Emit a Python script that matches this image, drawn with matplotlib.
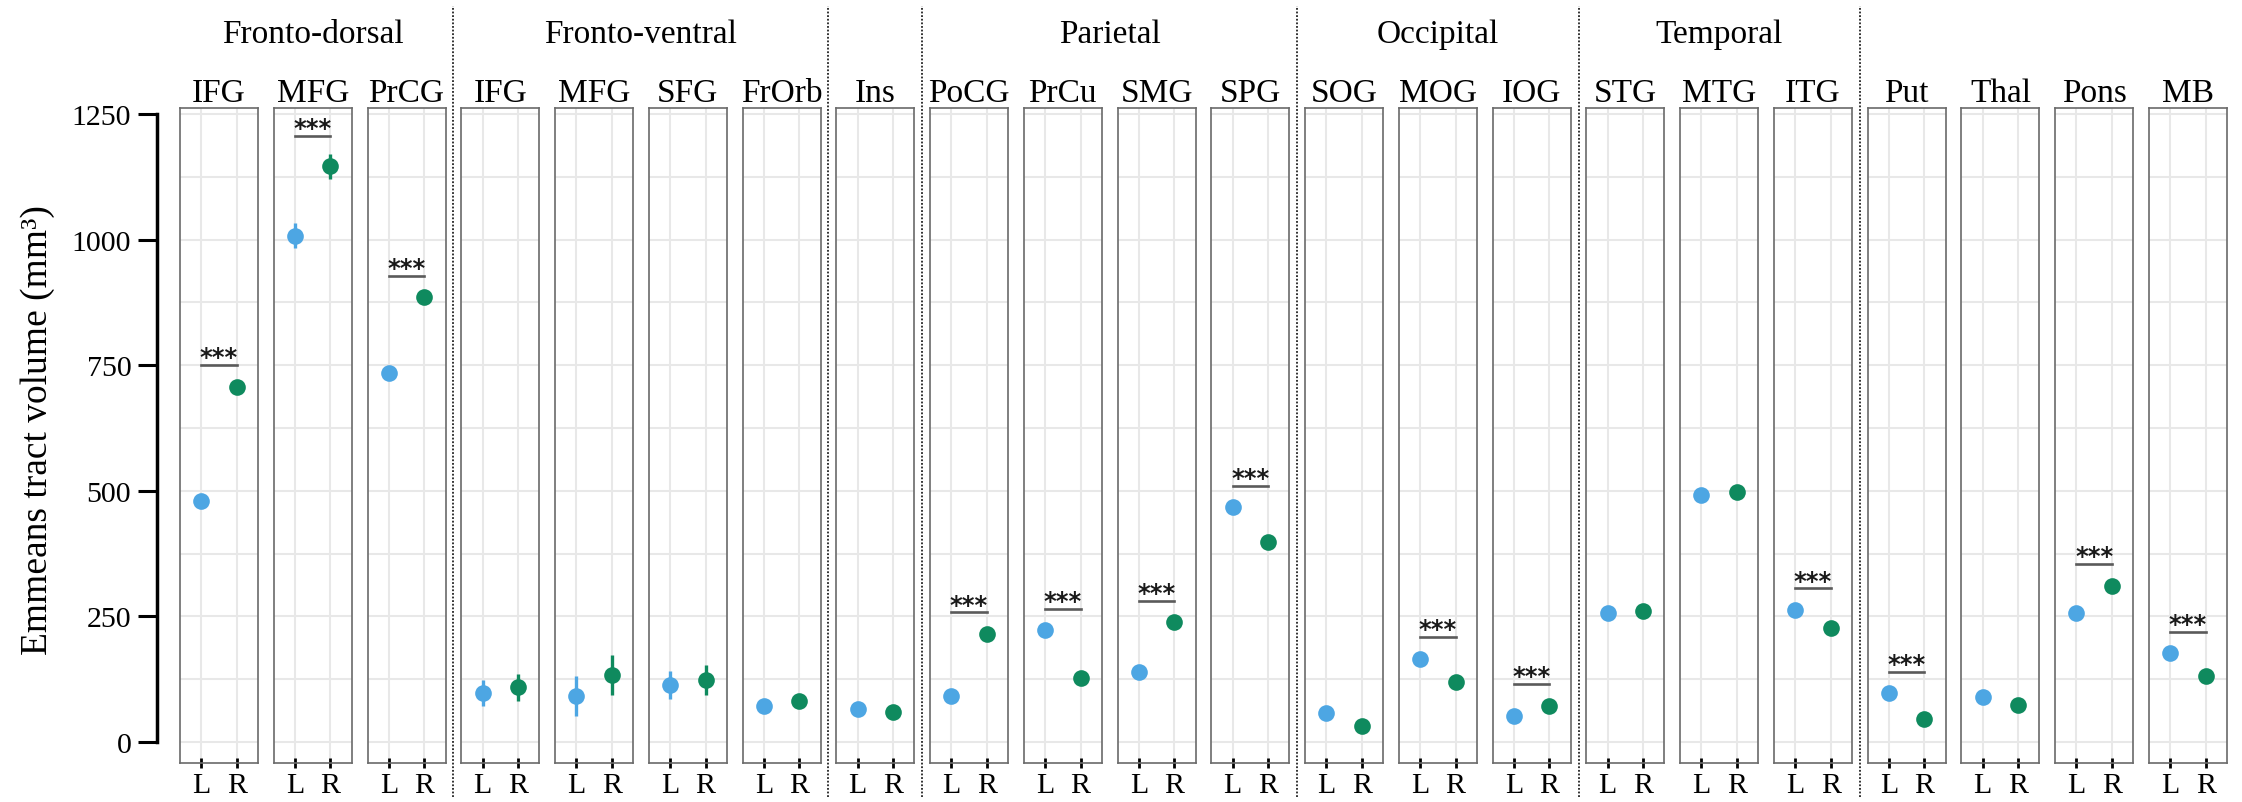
import matplotlib
matplotlib.use("Agg")
import matplotlib.pyplot as plt
from matplotlib.lines import Line2D
import numpy as np

plt.rcParams['font.family'] = ['Liberation Serif', 'DejaVu Sans']

# ---------------- data ----------------
regions = ["IFG", "MFG", "PrCG",
           "IFG", "MFG", "SFG", "FrOrb",
           "Ins",
           "PoCG", "PrCu", "SMG", "SPG",
           "SOG", "MOG", "IOG",
           "STG", "MTG", "ITG",
           "Put", "Thal", "Pons", "MB"]
group_names = ["Fronto-dorsal", "Fronto-ventral", "", "Parietal", "Occipital", "Temporal", ""]
group_sizes = [3, 4, 1, 4, 3, 3, 4]
hemispheres = ["L", "R"]
left_means = [480, 1008, 734, 97, 92, 113, 71, 66, 92, 222, 140, 467,
              58, 166, 52, 256, 491, 263, 97, 90, 256, 176]
right_means = [707, 1146, 885, 109, 133, 124, 82, 60, 215, 127, 238, 397,
               32, 120, 72, 260, 498, 227, 46, 74, 311, 132]
left_ci = [8, 25, 8, 26, 40, 28, 10, 8, 8, 8, 8, 8,
           8, 8, 8, 8, 8, 8, 8, 8, 8, 8]
right_ci = [8, 25, 8, 27, 40, 30, 10, 8, 8, 8, 8, 8,
            8, 8, 8, 8, 8, 8, 8, 8, 8, 8]
significant = [True, True, True, False, False, False, False, False,
               True, True, True, True, False, True, True,
               False, False, True, True, False, True, True]
yticks = [0, 250, 500, 750, 1000, 1250]
ylabel = "Emmeans tract volume (mm³)"

# ---------------- style ----------------
col_L = "#4DA6E3"
col_R = "#0F8A5E"
W, H = 2242, 803
fig = plt.figure(figsize=(W / 100, H / 100), dpi=100)

p_left0 = 180.0
pitch = 93.76
pw = 78.0
p_top, p_bot = 109.0, 764.0
ylim = (-42, 1262)

fb = (H - p_bot) / H
fh = (p_bot - p_top) / H

axes = []
for i, reg in enumerate(regions):
    x0 = p_left0 + i * pitch
    ax = fig.add_axes([x0 / W, fb, pw / W, fh])
    axes.append(ax)
    ax.set_xlim(-0.6, 1.6)
    ax.set_ylim(*ylim)
    ax.set_yticks(np.arange(0, 1251, 125))
    ax.tick_params(axis='y', left=False, labelleft=False)
    ax.set_xticks([0, 1])
    ax.set_xticklabels(hemispheres)
    ax.tick_params(axis='x', direction='inout', length=7.5, width=2.0,
                   color='black', labelsize=21.5, pad=3)
    ax.grid(True, color='#e8e8e8', lw=1.5)
    ax.set_axisbelow(True)
    for sp in ax.spines.values():
        sp.set_color('#6a6a6a')
        sp.set_linewidth(1.2)
    means = [left_means[i], right_means[i]]
    cis = [left_ci[i], right_ci[i]]
    cols = [col_L, col_R]
    for xi in range(2):
        ax.plot([xi, xi], [means[xi] - cis[xi], means[xi] + cis[xi]],
                color=cols[xi], lw=2.4, solid_capstyle='butt', zorder=3)
        ax.plot(xi, means[xi], 'o', ms=12, color=cols[xi], mew=0, zorder=4)
    if significant[i]:
        top = max(means[0] + cis[0], means[1] + cis[1]) + 35
        ax.plot([0, 1], [top, top], color='#5a5a5a', lw=1.9, zorder=3)
        ax.annotate("***", xy=(0.5, top), xytext=(0, 0.5), textcoords='offset points',
                    ha='center', va='baseline', fontsize=17.5, family='DejaVu Sans',
                    fontweight='bold', color='#1a1a1a')
    ax.set_title(reg, fontsize=24, pad=5)

# standalone y axis
yax = fig.add_axes([157 / W, fb, 0.0005, fh])
yax.set_ylim(*ylim)
yax.set_xticks([])
yax.patch.set_visible(False)
for s in ['top', 'right', 'bottom']:
    yax.spines[s].set_visible(False)
yax.spines['left'].set_bounds(0, 1250)
yax.spines['left'].set_linewidth(2.5)
yax.set_yticks(yticks)
yax.tick_params(axis='y', length=13.5, width=2.2, labelsize=21.5, pad=5)
fig.text(38 / W, 1 - 430 / H, ylabel, rotation=90, ha='center', va='center', fontsize=27)

# group titles and separators
idx = 0
for g, (name, size) in enumerate(zip(group_names, group_sizes)):
    first, last = idx, idx + size - 1
    gl = p_left0 + first * pitch
    gr = p_left0 + last * pitch + pw
    if name:
        fig.text(((gl + gr) / 2) / W, (H - 43) / H, name, ha='center', va='baseline', fontsize=24)
    if g < len(group_sizes) - 1:
        nxt = p_left0 + (last + 1) * pitch
        xs = ((gr + nxt) / 2) / W
        fig.add_artist(Line2D([xs, xs], [(H - 798) / H, (H - 7) / H], transform=fig.transFigure,
                              color='#222222', lw=1.3, ls=(0, (1, 1))))
    idx += size

fig.savefig("out.png", dpi=100, facecolor='white')
